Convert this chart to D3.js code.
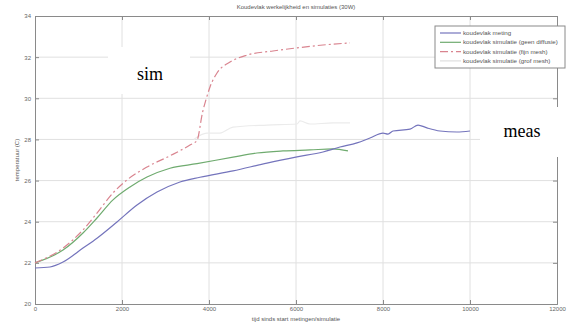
<!DOCTYPE html>
<html>
<head>
<meta charset="utf-8">
<script src="https://cdn.jsdelivr.net/npm/d3@7"></script>
<style>
  body { margin: 0; background: #fff; }
  svg { display: block; font-family: 'Liberation Sans', Arial, sans-serif; }
  .grid line { stroke: #e0e0e0; stroke-width: 1; }
  .axis text { fill: #666; font-size: 6px; }
  .axis path, .axis line { stroke: #8a8a8a; }
</style>
</head>
<body>
<div id="chart"></div>
<script>
// data
const xTicks = [0, 2000, 4000, 6000, 8000, 10000, 12000];
const yTicks = [20, 22, 24, 26, 28, 30, 32, 34];

const metingT = [0, 345, 644, 1103, 1425, 1885, 2345, 2805, 3333, 3793, 4552, 5333, 6023, 6620, 7011, 7402, 7701, 8000, 8115, 8230, 8621, 8805, 9011, 9310, 9701, 10000];
const metingV = [21.75, 21.8, 22.04, 22.72, 23.2, 23.99, 24.81, 25.44, 25.93, 26.16, 26.47, 26.85, 27.15, 27.39, 27.63, 27.83, 28.07, 28.31, 28.26, 28.41, 28.5, 28.7, 28.56, 28.41, 28.36, 28.41];

const geenT = [0, 644, 1103, 1425, 1793, 2184, 2575, 3103, 3724, 4552, 5103, 5701, 6322, 6851, 7195];
const geenV = [22.0, 22.62, 23.45, 24.18, 25.06, 25.69, 26.17, 26.6, 26.82, 27.14, 27.34, 27.44, 27.49, 27.54, 27.44];

const fijnT = [0, 644, 1103, 1425, 1793, 2115, 2575, 3100, 3563, 3724, 3850, 3940, 4023, 4184, 4483, 4874, 5471, 6023, 6620, 7241];
const fijnV = [22.0, 22.72, 23.6, 24.42, 25.4, 26.03, 26.66, 27.2, 27.73, 27.95, 29.3, 30.0, 30.55, 31.23, 31.76, 32.1, 32.3, 32.45, 32.59, 32.69];

const grofT = [3650, 3950, 4250, 4552, 5333, 6023, 6092, 6322, 6851, 7241];
const grofV = [28.0, 28.31, 28.31, 28.6, 28.7, 28.75, 28.9, 28.75, 28.8, 28.8];

const seriesNames = ['koudevlak meting', 'koudevlak simulatie (geen diffusie)', 'koudevlak simulatie (fijn mesh)', 'koudevlak simulatie (grof mesh)'];
const seriesColors = ['#7474bc', '#6fab6f', '#d9848f', '#ebebeb'];
const seriesDash = [null, null, '8,3,2,3', null];

const W = 568, H = 326;
const margin = { top: 16, right: 11, bottom: 22, left: 35 };
const width = W - margin.left - margin.right;
const height = H - margin.top - margin.bottom;

const svg = d3.select('#chart').append('svg')
  .attr('width', W)
  .attr('height', H);

const chart = svg.append('g')
  .attr('transform', `translate(${margin.left},${margin.top})`);

const x = d3.scaleLinear().domain([0, 12000]).range([0, width]);
const y = d3.scaleLinear().domain([20, 34]).range([height, 0]);

// grid
chart.append('g').attr('class', 'grid')
  .selectAll('line.v').data(xTicks.slice(1, -1)).enter().append('line')
  .attr('x1', d => x(d)).attr('x2', d => x(d))
  .attr('y1', 0).attr('y2', height);
chart.append('g').attr('class', 'grid')
  .selectAll('line.h').data(yTicks.slice(1, -1)).enter().append('line')
  .attr('x1', 0).attr('x2', width)
  .attr('y1', d => y(d)).attr('y2', d => y(d));

// axes (ticks inward, matlab style)
const xAxis = d3.axisBottom(x).tickValues(xTicks).tickSize(-4).tickPadding(3).tickFormat(d3.format('d'));
const yAxis = d3.axisLeft(y).tickValues(yTicks).tickSize(-4).tickPadding(4);

chart.append('g').attr('class', 'x axis')
  .attr('transform', `translate(0,${height})`).call(xAxis);
chart.append('g').attr('class', 'y axis').call(yAxis);
chart.append('g').attr('class', 'axis')
  .call(d3.axisTop(x).tickValues(xTicks).tickSize(-4).tickFormat(''));
chart.append('g').attr('class', 'axis')
  .attr('transform', `translate(${width},0)`)
  .call(d3.axisRight(y).tickValues(yTicks).tickSize(-4).tickFormat(''));

// lines
const line = d3.line().x(d => x(d[0])).y(d => y(d[1])).curve(d3.curveMonotoneX);
const allSeries = [
  d3.zip(metingT, metingV),
  d3.zip(geenT, geenV),
  d3.zip(fijnT, fijnV),
  d3.zip(grofT, grofV)
];
const order = [3, 1, 0, 2];
order.forEach(i => {
  chart.append('path')
    .datum(allSeries[i])
    .attr('fill', 'none')
    .attr('stroke', seriesColors[i])
    .attr('stroke-width', 1.2)
    .attr('stroke-dasharray', seriesDash[i])
    .attr('d', line);
});

// title and labels
svg.append('text')
  .attr('x', margin.left + width / 2).attr('y', 9)
  .attr('text-anchor', 'middle').attr('font-size', 6).attr('fill', '#555')
  .text('Koudevlak werkelijkheid en simulaties (30W)');
svg.append('text')
  .attr('x', margin.left + width / 2).attr('y', 321)
  .attr('text-anchor', 'middle').attr('font-size', 6).attr('fill', '#555')
  .text('tijd sinds start metingen/simulatie');
svg.append('text')
  .attr('transform', `translate(19,${margin.top + height / 2}) rotate(-90)`)
  .attr('text-anchor', 'middle').attr('font-size', 6).attr('fill', '#555')
  .text('temperatuur (C)');

// legend
const legend = svg.append('g').attr('transform', 'translate(435,26)');
legend.append('rect')
  .attr('width', 130).attr('height', 42)
  .attr('fill', '#fff').attr('stroke', '#8a8a8a');
seriesNames.forEach((name, i) => {
  const ly = 7 + i * 9.3;
  legend.append('line')
    .attr('x1', 5).attr('x2', 26).attr('y1', ly).attr('y2', ly)
    .attr('stroke', i === 3 ? '#dedede' : seriesColors[i])
    .attr('stroke-width', 1.2)
    .attr('stroke-dasharray', seriesDash[i]);
  legend.append('text')
    .attr('x', 28).attr('y', ly + 2)
    .attr('font-size', 6.2).attr('fill', '#555')
    .text(name);
});

// annotations pasted on top
svg.append('rect').attr('x', 108).attr('y', 47).attr('width', 82).attr('height', 47).attr('fill', '#fff');
svg.append('text').attr('x', 150).attr('y', 80)
  .attr('text-anchor', 'middle')
  .attr('font-family', "'Liberation Serif', 'DejaVu Serif', serif")
  .attr('font-size', 18).attr('fill', '#000').text('sim');
svg.append('rect').attr('x', 480).attr('y', 107).attr('width', 80).attr('height', 50).attr('fill', '#fff');
svg.append('text').attr('x', 522).attr('y', 137)
  .attr('text-anchor', 'middle')
  .attr('font-family', "'Liberation Serif', 'DejaVu Serif', serif")
  .attr('font-size', 18).attr('fill', '#000').text('meas');
</script>
</body>
</html>
